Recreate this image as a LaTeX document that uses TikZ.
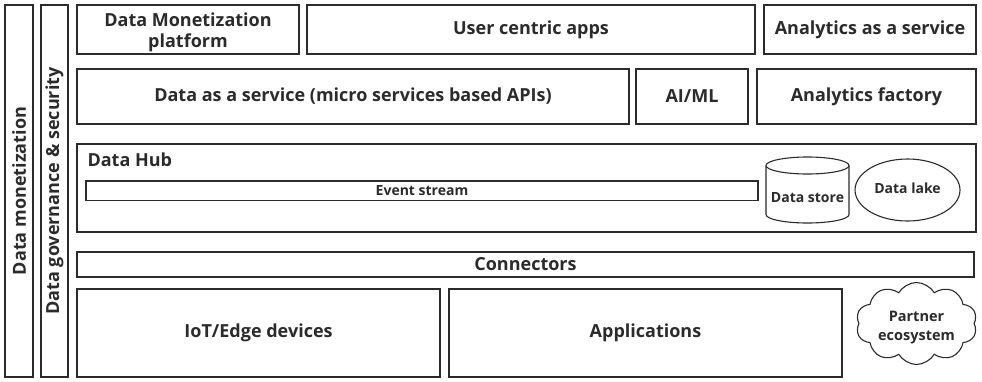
\documentclass[tikz,border=0pt]{standalone}
\usepackage{fontspec}
\setmainfont{Open Sans}
\usetikzlibrary{shapes.geometric,shapes.symbols}
\definecolor{ink}{HTML}{2B2B2B}
\tikzset{
  blk/.style={draw=ink, line width=1.1pt},
  lbl/.style={font=\bfseries\fontsize{18}{21}\selectfont, text=ink, align=center},
  small/.style={font=\bfseries\fontsize{14}{16}\selectfont, text=ink, align=center},
  cloudtxt/.style={font=\bfseries\fontsize{14.5}{19}\selectfont, text=ink, align=center},
}
\begin{document}
\begin{tikzpicture}[x=1pt,y=-1pt]
\useasboundingbox (0,0) rectangle (982,381);
% side bars
\draw[blk] (5,5) rectangle (33,377);
\node[lbl, rotate=90] (mon) at (19,191) {Data monetization};
\draw[blk] (41,5) rectangle (68,377);
\node[lbl, rotate=90] (gov) at (54.5,191) {Data governance \& security};
% top row
\draw[blk] (77,5) rectangle (299,54);
\node[lbl] (dmp) at (188,32) {Data Monetization\\platform};
\draw[blk] (307,5) rectangle (755,54);
\node[lbl] (uca) at (531,30) {User centric apps};
\draw[blk] (764,5) rectangle (976,54);
\node[lbl] (aas) at (870,30) {Analytics as a service};
% second row
\draw[blk] (77,69) rectangle (629,124);
\node[lbl] (daas) at (353,96.5) {Data as a service (micro services based APIs)};
\draw[blk] (636,69) rectangle (748,124);
\node[lbl] (aiml) at (692,96.5) {AI/ML};
\draw[blk] (757,69) rectangle (976,124);
\node[lbl] (af) at (866.5,96.5) {Analytics factory};
% data hub
\draw[blk] (77,144) rectangle (976,232);
\node[lbl, anchor=west] (hub) at (84,160) {Data Hub};
\draw[blk] (86,181) rectangle (758,200.5);
\node[small] (es) at (422,190.5) {Event stream};
% data store: a cylinder drawn from its outline
\coordinate (dstop) at (807.5,165.5);
\coordinate (dsbot) at (807.5,214.5);
\draw[blk] (dstop) ellipse [x radius=41.5pt, y radius=8.5pt];
\draw[blk] ([xshift=-41.5pt]dstop) -- ([xshift=-41.5pt]dsbot)
  arc [start angle=180, end angle=360, x radius=41.5pt, y radius=8.5pt]
  -- ([xshift=41.5pt]dstop);
\node[small] (dst) at (807.5,198) {Data store};
\node[blk, ellipse, minimum width=105, minimum height=62, inner sep=0pt] (dl) at (907.5,190) {};
\node[small] (dlt) at (907.5,188) {Data lake};
% connectors
\draw[blk] (77,252) rectangle (974,277);
\node[lbl] (con) at (525.5,264.5) {Connectors};
% bottom row
\draw[blk] (77,289) rectangle (440,377);
\node[lbl] (iot) at (258.5,333) {IoT/Edge devices};
\draw[blk] (449,289) rectangle (842,377);
\node[lbl] (app) at (645.5,333) {Applications};
\node[blk, cloud, cloud puffs=10, cloud puff arc=120, minimum width=121, minimum height=82, inner sep=0pt] (pe) at (916.5,323.5) {};
\node[cloudtxt] (pet) at (916.5,328) {Partner\\ecosystem};
\end{tikzpicture}
\end{document}
